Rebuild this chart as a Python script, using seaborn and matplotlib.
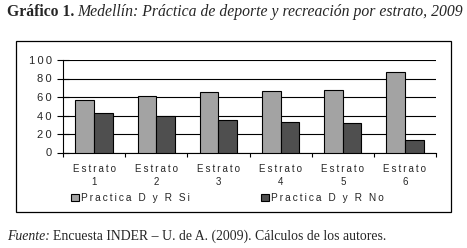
import pandas as pd
import matplotlib.pyplot as plt
import seaborn as sns
from matplotlib.patches import Rectangle
from matplotlib.ticker import FixedLocator

# data
estratos = ["Estrato\n1", "Estrato\n2", "Estrato\n3", "Estrato\n4", "Estrato\n5", "Estrato\n6"]
practica_si = [57, 61, 65, 67, 68, 87]
practica_no = [43, 39, 35, 33, 32, 13]
series = ["Practica D y R Si", "Practica D y R No"]
colors = ["#a3a3a3", "#4f4f4f"]
y_ticks = [0, 20, 40, 60, 80, 100]


def spaced(s):
    # the original chart uses letter-spaced labels
    return "\n".join("\u2009".join(line) for line in s.split("\n"))


df = pd.DataFrame({"estrato": estratos * 2,
                   "valor": practica_si + practica_no,
                   "serie": [series[0]] * 6 + [series[1]] * 6})

sns.set_style("white")
plt.rcParams["font.family"] = ["Liberation Sans", "DejaVu Sans"]

W, H = 467, 248
fig = plt.figure(figsize=(W / 100, H / 100), dpi=100)
ax = fig.add_axes([63 / W, 1 - 152.5 / H, 373 / W, 92.5 / H])

sns.barplot(data=df, x="estrato", y="valor", hue="serie", palette=colors,
            width=0.6, edgecolor="black", linewidth=0.8, ax=ax, zorder=3)
ax.get_legend().remove()

# axes styling
ax.set_ylim(0, 100)
ax.set_xlim(-0.5, 5.5)
ax.set_yticks(y_ticks)
ax.set_yticklabels([spaced(str(v)) for v in y_ticks])
ax.yaxis.grid(True, color="black", linewidth=0.8, zorder=0)
ax.set_axisbelow(True)
for side in ["top", "right"]:
    ax.spines[side].set_visible(False)
for side in ["left", "bottom"]:
    ax.spines[side].set_color("black")
    ax.spines[side].set_linewidth(0.8)
ax.set_xlabel("")
ax.set_ylabel("")
ax.tick_params(axis="y", which="major", left=True, direction="inout", length=8, width=0.8,
               color="black", labelsize=8, pad=4)
ax.set_xticks(range(6))
ax.set_xticklabels([spaced(s) for s in estratos], linespacing=1.45)
ax.tick_params(axis="x", which="major", bottom=False, length=0, labelsize=7, pad=8)
ax.xaxis.set_minor_locator(FixedLocator([i - 0.5 for i in range(7)]))
ax.tick_params(axis="x", which="minor", bottom=True, length=3, width=0.8, color="black")

# legend below the axis
handles, labels = ax.get_legend_handles_labels()
fig.legend(handles, [spaced(l) for l in labels], loc="center left",
           bbox_to_anchor=(71 / W, 1 - 198 / H),
           ncol=2, frameon=False, fontsize=7.3, handlelength=0.8, handleheight=0.8,
           handletextpad=0.2, columnspacing=7.0, borderaxespad=0, borderpad=0)

# frame around the chart
fig.patches.append(Rectangle((16 / W, 1 - 212 / H), 435 / W, 171 / H, transform=fig.transFigure,
                             fill=False, edgecolor="black", linewidth=0.9))

# title (bold part + italic part)
fig.canvas.draw()
r = fig.canvas.get_renderer()
t1 = fig.text(7 / W, 1 - 16 / H, "Gráfico 1.", fontsize=11.3, fontweight="bold",
              family="Liberation Serif", va="baseline")
bb = t1.get_window_extent(r)
fig.text((bb.x1 + 3) / W, 1 - 16 / H, "Medellín: Práctica de deporte y recreación por estrato, 2009",
         fontsize=11.3, style="italic", family="Liberation Serif", va="baseline")

# source note
t2 = fig.text(7 / W, 1 - 240 / H, "Fuente:", fontsize=9.9, style="italic",
              family="Liberation Serif", va="baseline")
bb2 = t2.get_window_extent(r)
fig.text((bb2.x1 + 3) / W, 1 - 240 / H, "Encuesta INDER – U. de A. (2009). Cálculos de los autores.",
         fontsize=9.9, family="Liberation Serif", va="baseline")

fig.savefig("out.png", dpi=100)
